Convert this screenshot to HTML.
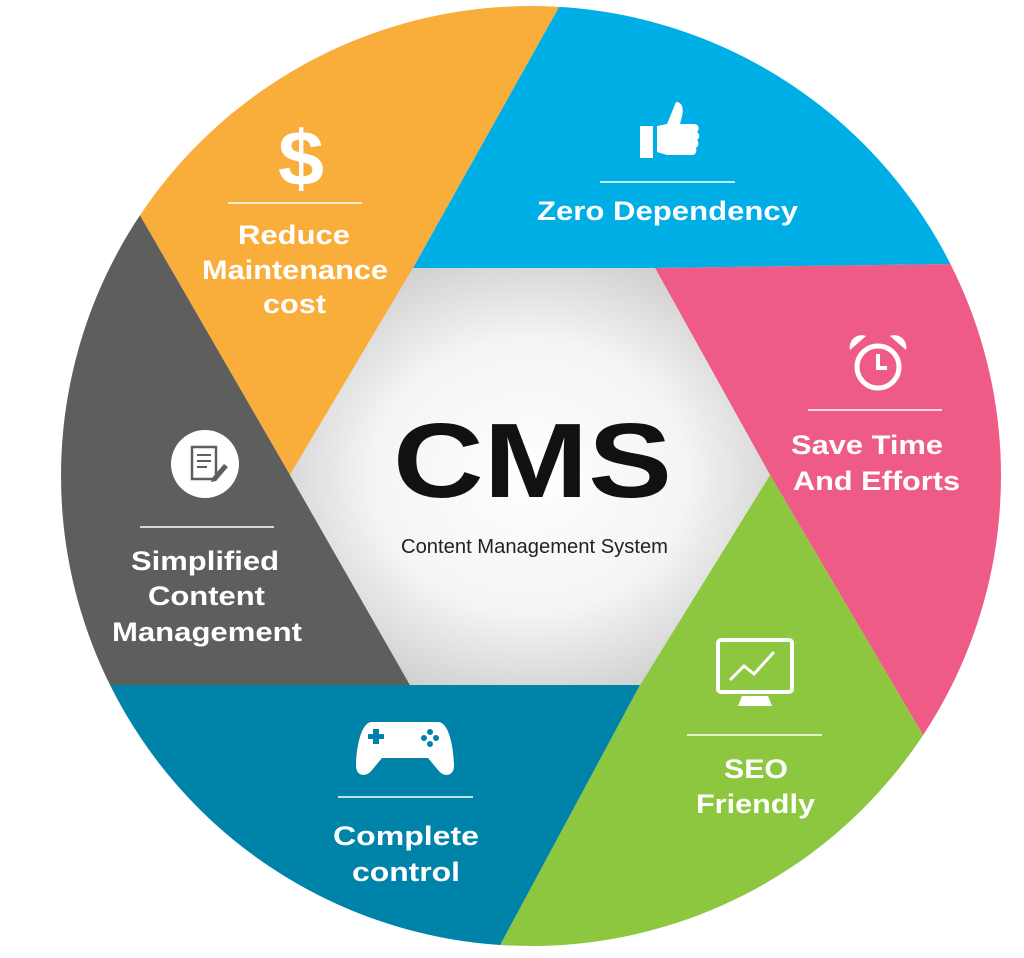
<!DOCTYPE html>
<html><head><meta charset="utf-8"><style>
html,body{margin:0;padding:0;background:#fff;width:1024px;height:958px;overflow:hidden}
svg{display:block;overflow:hidden}
svg text{font-family:"Liberation Sans",Arial,sans-serif}
</style></head><body>
<svg width="1024" height="958" viewBox="0 0 1024 958" xmlns="http://www.w3.org/2000/svg">
<defs>
<clipPath id="c"><circle cx="531" cy="476" r="470"/></clipPath>
<radialGradient id="g" cx="50%" cy="50%" r="60%">
<stop offset="0" stop-color="#ffffff"/><stop offset="0.55" stop-color="#f4f4f4"/><stop offset="1" stop-color="#c9c9c9"/>
</radialGradient>
</defs>
<g clip-path="url(#c)">
<polygon fill="#F9AE3B" points="290,475 0,-27 0,-200 675,-200 413,268"/>
<polygon fill="#00AEE6" points="413,268 675,-200 1100,-200 1100,262 655,268"/>
<polygon fill="#EF5B87" points="655,268 1100,262 1100,1036 770,475"/>
<polygon fill="#8DC63F" points="770,475 1100,1036 1100,1200 363,1200 640,685"/>
<polygon fill="#0083A8" points="640,685 363,1200 -100,1200 -100,685 410,685"/>
<polygon fill="#5E5E5C" points="290,475 0,-27 -100,-27 -100,685 410,685"/>
</g>
<polygon fill="url(#g)" points="413,268 655,268 770,475 640,685 410,685 290,475"/>
<text x="393" y="497" font-size="106" font-weight="bold" fill="#111" textLength="279" lengthAdjust="spacingAndGlyphs">CMS</text>
<text x="401" y="553" font-size="20" fill="#222" textLength="267" lengthAdjust="spacingAndGlyphs">Content Management System</text>

<g fill="#fff" font-weight="bold" font-size="27">
<text x="278" y="185" font-size="78" textLength="46" lengthAdjust="spacingAndGlyphs">$</text>
<line x1="228" y1="203" x2="362" y2="203" stroke="#fff" stroke-width="1.5"/>
<text x="238" y="244" textLength="112" lengthAdjust="spacingAndGlyphs">Reduce</text>
<text x="202" y="279" textLength="186" lengthAdjust="spacingAndGlyphs">Maintenance</text>
<text x="263" y="313" textLength="63" lengthAdjust="spacingAndGlyphs">cost</text>

<path d="M640 126h13v32h-13z M657 126l10-2 9-22c6 0 8 6 6 14l-2 8h14c5 0 6 5 3 8 3 2 3 6 0 8 2 2 2 6-1 8 1 3 0 7-4 7h-25l-10-3z"/>
<line x1="600" y1="182" x2="735" y2="182" stroke="#fff" stroke-width="1.5"/>
<text x="537" y="220" textLength="261" lengthAdjust="spacingAndGlyphs">Zero Dependency</text>

<circle cx="878" cy="367" r="21" fill="none" stroke="#fff" stroke-width="5"/>
<path d="M878 354v14h9" fill="none" stroke="#fff" stroke-width="4"/>
<path d="M850 350a12 12 0 0 1 16-14z M906 350a12 12 0 0 0-16-14z"/>
<line x1="808" y1="410" x2="942" y2="410" stroke="#fff" stroke-width="1.5"/>
<text x="791" y="454" textLength="152" lengthAdjust="spacingAndGlyphs">Save Time</text>
<text x="793" y="490" textLength="167" lengthAdjust="spacingAndGlyphs">And Efforts</text>

<rect x="718" y="640" width="74" height="52" rx="3" fill="none" stroke="#fff" stroke-width="4"/>
<path d="M730 680l14-14 10 8 20-22" fill="none" stroke="#fff" stroke-width="3"/>
<path d="M742 696h26l4 10h-34z"/>
<line x1="687" y1="735" x2="822" y2="735" stroke="#fff" stroke-width="1.5"/>
<text x="724" y="778" textLength="64" lengthAdjust="spacingAndGlyphs">SEO</text>
<text x="696" y="813" textLength="119" lengthAdjust="spacingAndGlyphs">Friendly</text>

<path d="M372 722h66c12 0 16 30 16 44 0 10-10 12-16 4l-10-12h-46l-10 12c-6 8-16 6-16-4 0-14 4-44 16-44z"/>
<rect x="368" y="734" width="16" height="5" fill="#0083A8"/><rect x="373" y="729" width="6" height="15" fill="#0083A8"/>
<circle cx="430" cy="732" r="3" fill="#0083A8"/><circle cx="430" cy="744" r="3" fill="#0083A8"/><circle cx="424" cy="738" r="3" fill="#0083A8"/><circle cx="436" cy="738" r="3" fill="#0083A8"/>
<line x1="338" y1="797" x2="473" y2="797" stroke="#fff" stroke-width="1.5"/>
<text x="333" y="845" textLength="146" lengthAdjust="spacingAndGlyphs">Complete</text>
<text x="352" y="881" textLength="108" lengthAdjust="spacingAndGlyphs">control</text>

<circle cx="205" cy="464" r="34"/>
<rect x="192" y="447" width="24" height="32" fill="none" stroke="#5E5E5C" stroke-width="2.5"/>
<path d="M197 455h14M197 461h14M197 467h10" stroke="#5E5E5C" stroke-width="2"/>
<path d="M212 478l12-14 4 3-12 14-5 1z" fill="#5E5E5C"/>
<line x1="140" y1="527" x2="274" y2="527" stroke="#fff" stroke-width="1.5"/>
<text x="131" y="570" textLength="148" lengthAdjust="spacingAndGlyphs">Simplified</text>
<text x="148" y="605" textLength="117" lengthAdjust="spacingAndGlyphs">Content</text>
<text x="112" y="641" textLength="190" lengthAdjust="spacingAndGlyphs">Management</text>
</g>
</svg>
</body></html>
